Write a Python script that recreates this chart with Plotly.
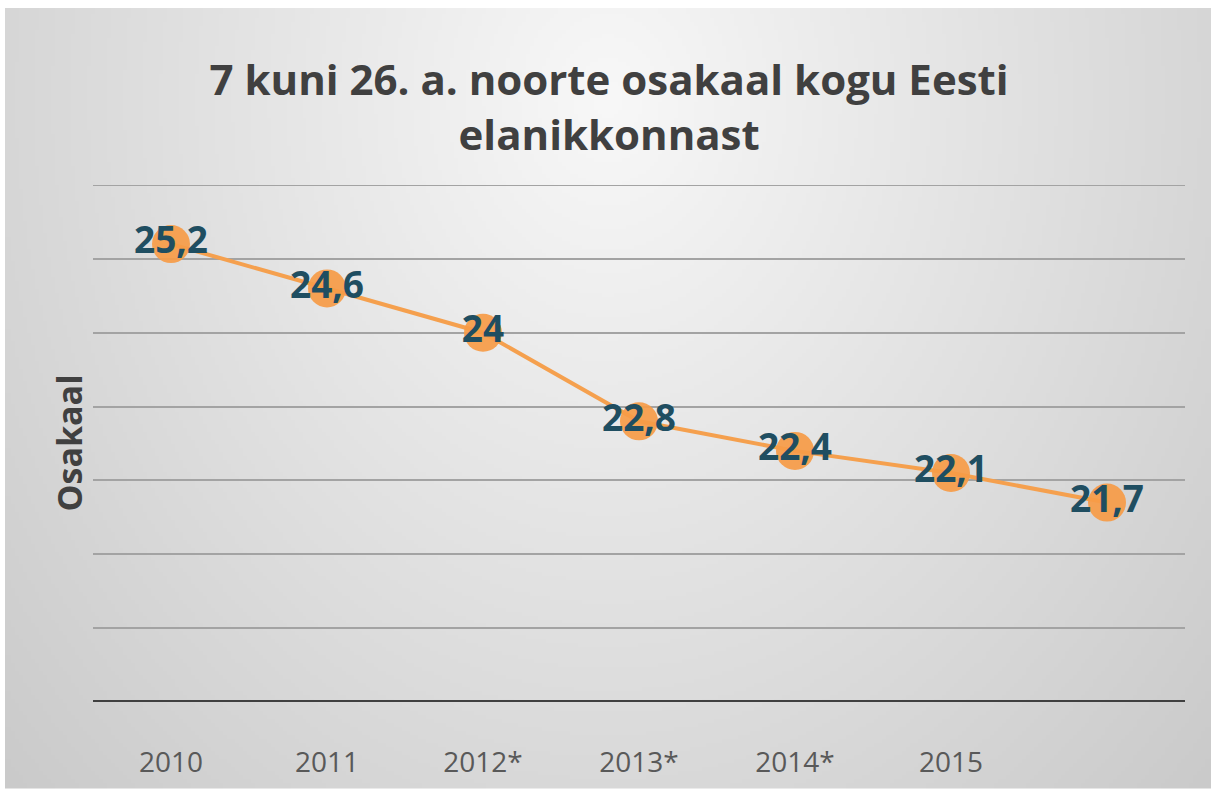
import base64
import struct
import zlib

import numpy as np
import plotly.graph_objects as go

# ---- data ----
categories = ["2010", "2011", "2012*", "2013*", "2014*", "2015", "2016"]
tick_labels = ["2010", "2011", "2012*", "2013*", "2014*", "2015", ""]
values = [25.2, 24.6, 24.0, 22.8, 22.4, 22.1, 21.7]
title_text = "7 kuni 26. a. noorte osakaal kogu Eesti<br>elanikkonnast"
y_title = "Osakaal"
y_min, y_max = 19, 26


def fmt(v):
    s = ("%.1f" % v)
    if s.endswith(".0"):
        s = s[:-2]
    return s.replace(".", ",")


labels = [fmt(v) for v in values]


# ---- background gradient image (generated locally) ----
def gradient_png(w=302, h=196):
    ys, xs = np.mgrid[0:h, 0:w]
    px = xs / (w - 1) * 1206.0
    py = ys / (h - 1) * 785.0
    d = np.sqrt(((px - 603) / 650.0) ** 2 + ((py - 90) / 800.0) ** 2)
    g = np.clip(248 - 36 * d, 185, 250).astype(np.uint8)
    raw = b"".join(b"\x00" + g[r].tobytes() for r in range(h))

    def chunk(t, data):
        c = struct.pack(">I", len(data)) + t + data
        return c + struct.pack(">I", zlib.crc32(t + data) & 0xFFFFFFFF)

    png = b"\x89PNG\r\n\x1a\n"
    png += chunk(b"IHDR", struct.pack(">IIBBBBB", w, h, 8, 0, 0, 0, 0))
    png += chunk(b"IDAT", zlib.compress(raw, 9))
    png += chunk(b"IEND", b"")
    return "data:image/png;base64," + base64.b64encode(png).decode()


W, H = 1211, 792
L, R, T, B = 93, 26, 185, 87
GRID = "#a3a3a3"

fig = go.Figure()
fig.add_trace(
    go.Scatter(
        x=categories,
        y=values,
        mode="lines+markers+text",
        text=labels,
        textposition="middle center",
        textfont=dict(family="Open Sans", size=37, color="#1F4E61", weight="bold"),
        line=dict(color="#F5A04E", width=4),
        marker=dict(size=38, color="rgba(246,155,70,0.92)", line=dict(width=0)),
        cliponaxis=False,
        hoverinfo="skip",
    )
)

fig.update_layout(
    width=W,
    height=H,
    margin=dict(l=L, r=R, t=T, b=B, pad=0),
    paper_bgcolor="white",
    plot_bgcolor="rgba(0,0,0,0)",
    showlegend=False,
    separators=",.",
    title=dict(
        text=title_text,
        font=dict(family="Open Sans", size=42, color="#404040", weight="bold"),
        x=0.503,
        xref="container",
        xanchor="center",
        y=1 - 95 / H,
        yref="container",
        yanchor="middle",
    ),
    images=[
        dict(
            source=gradient_png(),
            xref="paper",
            yref="paper",
            x=-(L - 5) / (W - L - R),
            y=1 + (T - 7) / (H - T - B),
            sizex=(W - 5) / (W - L - R),
            sizey=(H - 7) / (H - T - B),
            xanchor="left",
            yanchor="top",
            sizing="stretch",
            layer="below",
        )
    ],
    xaxis=dict(
        type="category",
        tickmode="array",
        tickvals=categories,
        ticktext=tick_labels,
        range=[-0.5, 6.5],
        showgrid=False,
        showline=False,
        zeroline=False,
        ticks="",
        ticklabelstandoff=41,
        tickfont=dict(family="Open Sans", size=28, color="#595959"),
    ),
    yaxis=dict(
        range=[y_min, y_max],
        dtick=1,
        tick0=y_min,
        showgrid=True,
        gridcolor=GRID,
        gridwidth=2,
        showticklabels=False,
        zeroline=False,
        showline=False,
        ticks="",
    ),
    shapes=[
        dict(
            type="line",
            xref="paper",
            yref="y",
            x0=0,
            x1=1,
            y0=y_max,
            y1=y_max,
            line=dict(color=GRID, width=2),
            layer="below",
        ),
        dict(
            type="line",
            xref="paper",
            yref="y",
            x0=0,
            x1=1,
            y0=y_min,
            y1=y_min,
            line=dict(color="#404040", width=4),
        ),
    ],
    annotations=[
        dict(
            text=y_title,
            xref="paper",
            yref="paper",
            x=(68 - L) / (W - L - R),
            y=(H - B - 445) / (H - T - B),
            textangle=-90,
            showarrow=False,
            xanchor="center",
            yanchor="middle",
            font=dict(family="Open Sans", size=34, color="#404040", weight="bold"),
        )
    ],
)

fig.write_html(
    "out.html",
    config={"displayModeBar": False},
    post_script="document.body.style.margin='0';",
)
